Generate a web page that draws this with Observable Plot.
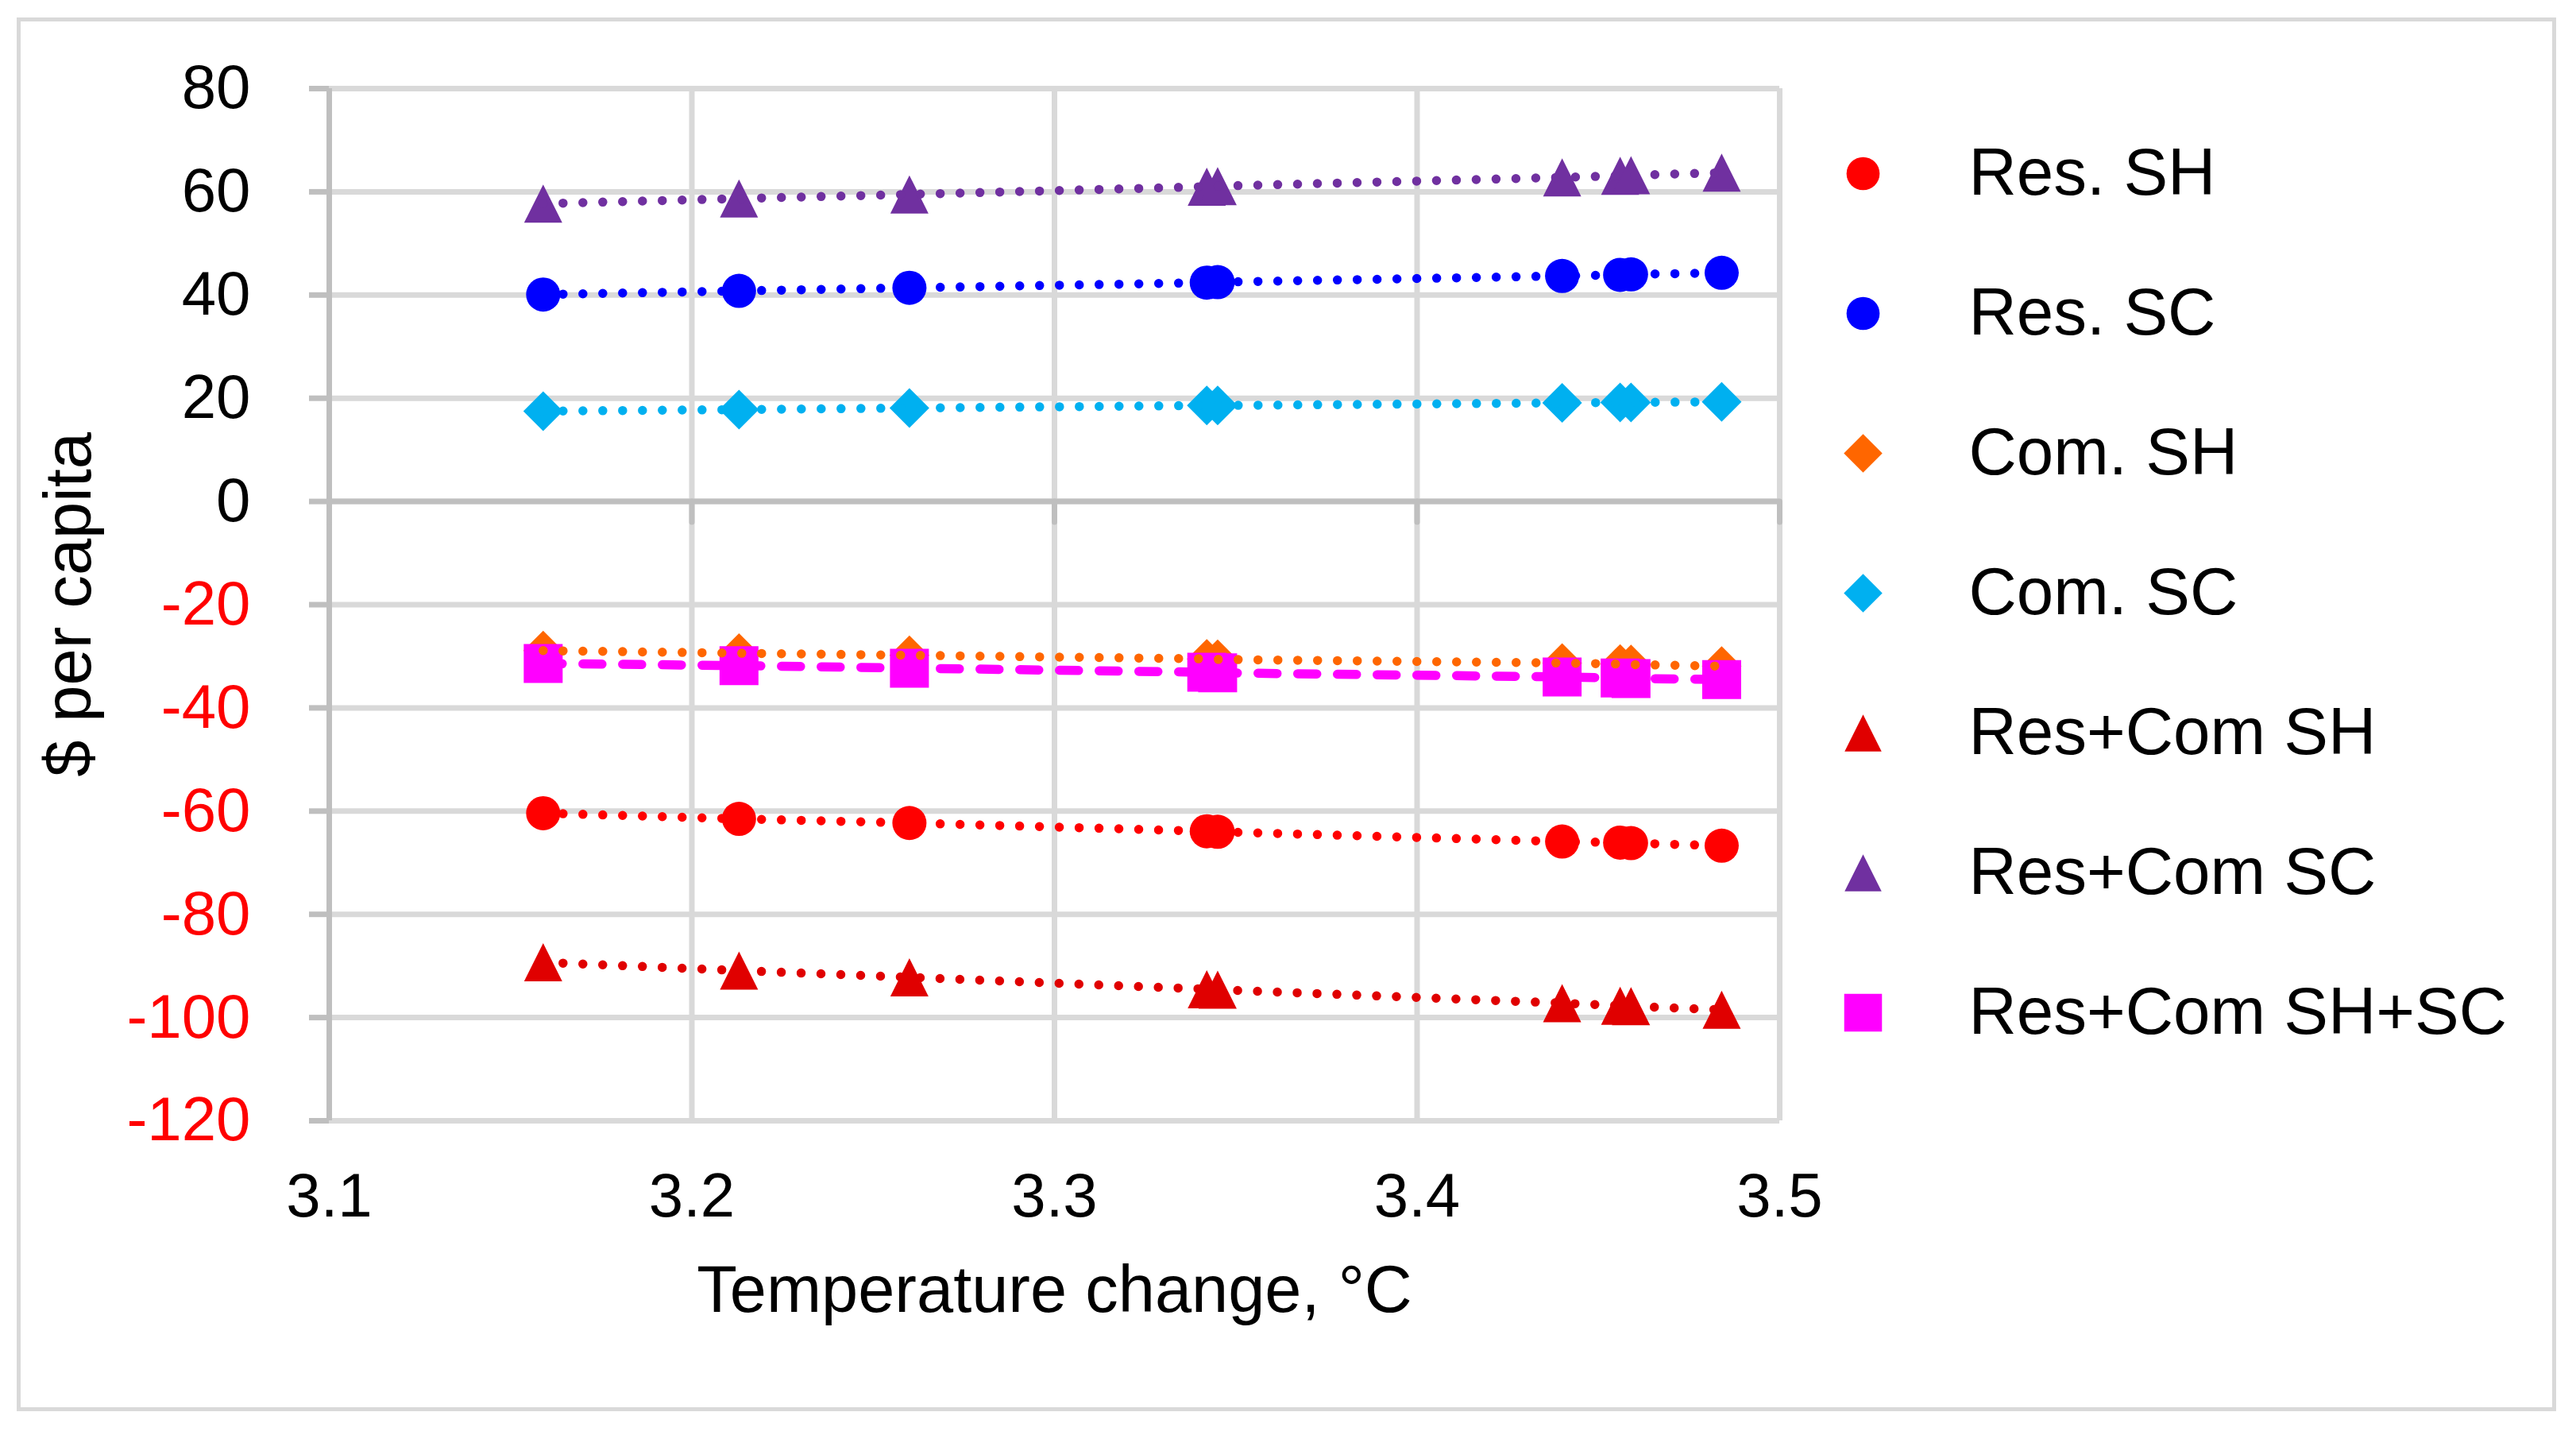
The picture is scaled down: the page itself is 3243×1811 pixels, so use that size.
<!DOCTYPE html>
<html>
<head>
<meta charset="utf-8">
<script src="https://cdn.jsdelivr.net/npm/d3@7"></script>
<script src="https://cdn.jsdelivr.net/npm/@observablehq/plot@0.6"></script>
<style>
  body { margin: 0; background: #fff; }
  #wrap { position: relative; width: 3243px; height: 1811px; background: #fff; overflow: hidden;
          font-family: "Liberation Sans", Arial, sans-serif; }
  #frame { position: absolute; left: 21px; top: 22px; width: 3187px; height: 1744px; border: 5px solid #D9D9D9; }
  #chart { position: absolute; left: 0; top: 0; }
  #legend { position: absolute; left: 2300px; top: 0; }
</style>
</head>
<body>
<div id="wrap"><div id="frame"></div><div id="chart"></div><div id="legend"></div></div>
<script>
// ---- data ----
const temperature = [3.159, 3.213, 3.260, 3.342, 3.345, 3.440, 3.456, 3.459, 3.484];
const seriesNames = ["Res. SH", "Res. SC", "Com. SH", "Com. SC", "Res+Com SH", "Res+Com SC", "Res+Com SH+SC"];
const resSH   = [-60.4, -61.5, -62.3, -63.9, -64.0, -65.9, -66.1, -66.2, -66.7];
const resSC   = [40.1, 40.8, 41.4, 42.4, 42.5, 43.7, 43.9, 44.0, 44.3];
const comSH   = [-28.9, -29.4, -29.8, -30.5, -30.6, -31.3, -31.5, -31.6, -31.9];
const comSC   = [17.5, 17.8, 18.1, 18.6, 18.6, 19.1, 19.2, 19.2, 19.3];
const rcSH    = [-89.3, -90.9, -92.2, -94.5, -94.6, -97.2, -97.7, -97.8, -98.5];
const rcSC    = [57.7, 58.7, 59.5, 61.0, 61.1, 62.8, 63.1, 63.2, 63.7];
const rcSHSC  = [-31.4, -31.8, -32.3, -33.1, -33.2, -34.0, -34.2, -34.3, -34.5];
const xTicks = [3.1, 3.2, 3.3, 3.4, 3.5];
const yTicks = [-120, -100, -80, -60, -40, -20, 0, 20, 40, 60, 80];
const xTitle = "Temperature change, °C";
const yTitle = "$ per capita";

// ---- styles ----
const FONT = '"Liberation Sans", Arial, sans-serif';
const squareSym = {draw(ctx, size) { const h = Math.sqrt(size / Math.PI); ctx.rect(-h, -h, 2 * h, 2 * h); }};
const triSym = {draw(ctx, size) { const h = Math.sqrt(size / Math.PI); ctx.moveTo(0, -h); ctx.lineTo(h, h); ctx.lineTo(-h, h); ctx.closePath(); }};
const diaSym = {draw(ctx, size) { const h = Math.sqrt(size / Math.PI); ctx.moveTo(0, -h); ctx.lineTo(h, 0); ctx.lineTo(0, h); ctx.lineTo(-h, 0); ctx.closePath(); }};
const seriesValues = [resSH, resSC, comSH, comSC, rcSH, rcSC, rcSHSC];
const seriesColors = ["#FF0000", "#0000FF", "#FF6600", "#00B0F0", "#E00000", "#7030A0", "#FF00FF"];
const seriesSymbols = ["circle", "circle", diaSym, diaSym, triSym, triSym, squareSym];
const seriesR = [21.5, 21.5, 25, 25, 24, 24, 24.5];
const seriesDash = ["0 25", "0 25", "0 25", "0 25", "0 25", "0 25", "24 26"];

const rows = seriesNames.map((name, i) =>
  temperature.map((t, j) => ({series: name, x: t, y: seriesValues[i][j]})));

const dotMarks = rows.map((r, i) => Plot.dot(r, {
  x: "x", y: "y", symbol: seriesSymbols[i], r: seriesR[i], fill: seriesColors[i], stroke: "none"
}));
const lineMarks = rows.map((r, i) => Plot.line(r, {
  x: "x", y: "y", sort: "x", stroke: seriesColors[i], strokeWidth: 11.5,
  strokeDasharray: seriesDash[i], strokeLinecap: "round", strokeLinejoin: "round"
}));

const chart = Plot.plot({
  width: 2300, height: 1811,
  marginLeft: 414, marginRight: 60, marginTop: 111, marginBottom: 401,
  style: {fontFamily: FONT, background: "transparent", overflow: "visible", color: "#000"},
  x: {domain: [3.1, 3.5], ticks: xTicks, label: null},
  y: {domain: [-120, 80], ticks: yTicks, label: null},
  marks: [
    Plot.gridX(xTicks, {stroke: "#D9D9D9", strokeWidth: 7, strokeOpacity: 1}),
    Plot.gridY(yTicks, {stroke: "#D9D9D9", strokeWidth: 7, strokeOpacity: 1}),
    Plot.ruleX([xTicks[0]], {stroke: "#BFBFBF", strokeWidth: 7}),
    Plot.ruleY([0], {stroke: "#BFBFBF", strokeWidth: 7}),
    Plot.vector(xTicks, {x: d => d, y: () => 0, length: 26, rotate: 180, anchor: "start",
      stroke: "#BFBFBF", strokeWidth: 7,
      shape: {draw(ctx, l) { ctx.moveTo(0, 0); ctx.lineTo(0, -l); }}}),
    Plot.axisY(yTicks.filter(v => v < 0), {tickSize: 25, tickPadding: 74, stroke: "#BFBFBF", strokeWidth: 7,
      fill: "#FF0000", fontSize: 78, label: null, tickFormat: d => String(d)}),
    Plot.axisY(yTicks.filter(v => v >= 0), {tickSize: 25, tickPadding: 74, stroke: "#BFBFBF", strokeWidth: 7,
      fill: "#000000", fontSize: 78, label: null, tickFormat: d => String(d)}),
    Plot.axisX(xTicks, {tickSize: 0, tickPadding: 65, fill: "#000000", fontSize: 78, label: null,
      tickFormat: d => d.toFixed(1)}),
    ...dotMarks,
    ...lineMarks,
    Plot.text([yTitle], {text: d => d, frameAnchor: "left", textAnchor: "middle", dx: -327, rotate: -90,
      fontSize: 83, fill: "#000"}),
    Plot.text([xTitle], {text: d => d, frameAnchor: "bottom", textAnchor: "middle", dy: 240,
      fontSize: 83, fill: "#000"})
  ]
});
document.getElementById("chart").appendChild(chart);

const legend = Plot.plot({
  width: 943, height: 1811,
  marginLeft: 0, marginRight: 0, marginTop: 216, marginBottom: 1811 - 1275,
  style: {fontFamily: FONT, background: "transparent", overflow: "visible", color: "#000"},
  y: {type: "point", domain: seriesNames, padding: 0, axis: null},
  marks: [
    ...seriesNames.map((name, i) => Plot.dot([name], {
      y: d => d, frameAnchor: "left", dx: 45, symbol: seriesSymbols[i], r: seriesR[i] * 0.97,
      fill: seriesColors[i], stroke: "none"})),
    Plot.text(seriesNames, {y: d => d, text: d => d, frameAnchor: "left", dx: 178, textAnchor: "start",
      fontSize: 83.5, fill: "#000"})
  ]
});
document.getElementById("legend").appendChild(legend);
</script>
</body>
</html>
